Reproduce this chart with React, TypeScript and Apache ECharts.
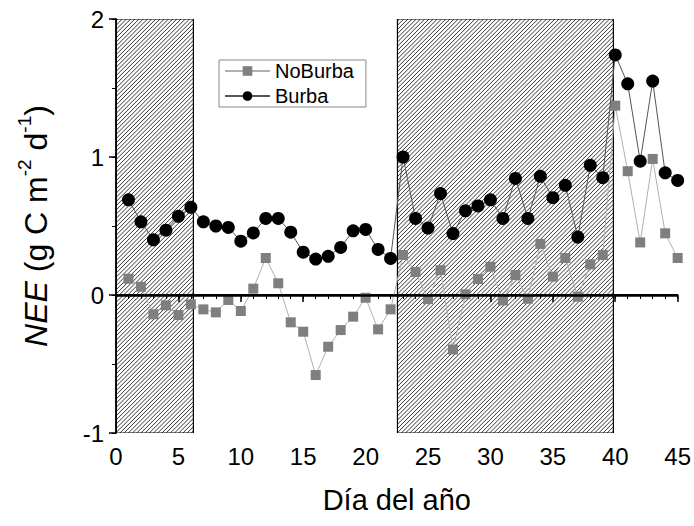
import React, { useEffect, useRef } from "react";
import * as echarts from "echarts";

const days: number[] = [
  1, 2, 3, 4, 5, 6, 7, 8, 9, 10, 11, 12, 13, 14, 15, 16, 17, 18, 19, 20, 21, 22, 23,
  24, 25, 26, 27, 28, 29, 30, 31, 32, 33, 34, 35, 36, 37, 38, 39, 40, 41, 42, 43, 44, 45,
];

const burba: number[] = [
  0.69, 0.53, 0.4, 0.47, 0.57, 0.635, 0.53, 0.5, 0.49, 0.39, 0.45, 0.555, 0.555, 0.455,
  0.31, 0.26, 0.28, 0.345, 0.465, 0.475, 0.33, 0.265, 1.0, 0.555, 0.485, 0.735, 0.445,
  0.61, 0.645, 0.69, 0.555, 0.845, 0.555, 0.86, 0.705, 0.795, 0.42, 0.94, 0.85, 1.74,
  1.53, 0.97, 1.55, 0.885, 0.83,
];

const noBurba: number[] = [
  0.118, 0.06, -0.14, -0.075, -0.145, -0.068, -0.104, -0.126, -0.036, -0.116, 0.046,
  0.268, 0.085, -0.198, -0.266, -0.58, -0.375, -0.254, -0.157, -0.02, -0.249, -0.104,
  0.29, 0.167, -0.03, 0.18, -0.395, 0.005, 0.116, 0.205, -0.04, 0.145, -0.027, 0.37,
  0.133, 0.268, -0.012, 0.222, 0.29, 1.372, 0.897, 0.381, 0.986, 0.447, 0.268,
];

// shaded (hatched) periods on the day axis
const hatchStart: number[] = [0, 22.55];
const hatchEnd: number[] = [6.2, 39.85];

const seriesNames: string[] = ["NoBurba", "Burba"];
const xTitle = "Día del año";

const FONT = "'Liberation Sans', Arial, Helvetica, sans-serif";

export default function App() {
  const ref = useRef<HTMLDivElement>(null);

  useEffect(() => {
    if (!ref.current) return;
    const chart = echarts.init(ref.current, null, { renderer: "svg" });

    const hatchData = hatchStart.map((s, i) => [s, hatchEnd[i]]);

    const renderHatch = (params: any, api: any) => {
      const xa = api.coord([api.value(0), 2])[0];
      const xb = api.coord([api.value(1), 2])[0];
      const y0 = api.coord([0, 2])[1];
      const y1 = api.coord([0, -1])[1];
      const step = 4.2;
      const children: any[] = [];
      // "/" lines: x + y = c
      for (let c = xa + y0 + step / 2; c < xb + y1; c += step) {
        const px0 = Math.max(xa, c - y1);
        const px1 = Math.min(xb, c - y0);
        if (px1 <= px0) continue;
        children.push({
          type: "line",
          shape: { x1: px0, y1: c - px0, x2: px1, y2: c - px1 },
          style: { stroke: "#000", lineWidth: 0.8 },
          silent: true,
        });
      }
      children.push({
        type: "rect",
        shape: { x: xa, y: y0, width: xb - xa, height: y1 - y0 },
        style: { fill: "none", stroke: "#000", lineWidth: 1.2 },
        silent: true,
      });
      return { type: "group", children };
    };

    const option: any = {
      animation: false,
      backgroundColor: "#fff",
      textStyle: { fontFamily: FONT },
      grid: { left: 116, right: 16, top: 19, bottom: 93, containLabel: false },
      legend: {
        data: seriesNames,
        orient: "vertical",
        left: 219,
        top: 60,
        itemWidth: 45,
        itemHeight: 12,
        itemGap: 5,
        padding: [1, 12, 1, 5],
        borderColor: "#888",
        borderWidth: 1,
        backgroundColor: "#fff",
        textStyle: { fontSize: 20, color: "#000", fontFamily: FONT },
      },
      xAxis: [
        {
          type: "value",
          position: "bottom",
          min: 0,
          max: 45,
          interval: 5,
          axisLine: { show: true, lineStyle: { color: "#000", width: 1.5 } },
          axisTick: { show: true, inside: false, length: 7, lineStyle: { color: "#000", width: 1.5 } },
          minorTick: { show: true, splitNumber: 5, length: 4, lineStyle: { color: "#000", width: 1 } },
          splitLine: { show: false },
          minorSplitLine: { show: false },
          axisLabel: { fontSize: 24, color: "#000", margin: 11, fontFamily: FONT },
          name: xTitle,
          nameLocation: "middle",
          nameGap: 52,
          nameTextStyle: { fontSize: 29, color: "#000", fontFamily: FONT },
        },
        {
          type: "value",
          position: "top",
          min: 0,
          max: 45,
          interval: 1,
          axisLine: { show: true, lineStyle: { color: "#000", width: 1.5 } },
          axisTick: { show: true, inside: true, length: 4, lineStyle: { color: "#000", width: 1 } },
          splitLine: { show: false },
          axisLabel: { show: false },
        },
      ],
      yAxis: [
        {
          type: "value",
          position: "left",
          min: -1,
          max: 2,
          interval: 1,
          axisLine: { show: true, lineStyle: { color: "#000", width: 1.5 } },
          axisTick: { show: true, inside: false, length: 7, lineStyle: { color: "#000", width: 1.5 } },
          minorTick: { show: true, splitNumber: 2, length: 4, lineStyle: { color: "#000", width: 1 } },
          splitLine: { show: false },
          minorSplitLine: { show: false },
          axisLabel: { fontSize: 24, color: "#000", margin: 12, fontFamily: FONT },
        },
        {
          type: "value",
          position: "right",
          min: -1,
          max: 2,
          interval: 0.5,
          axisLine: { show: true, lineStyle: { color: "#000", width: 1.5 } },
          axisTick: { show: true, inside: true, length: 4, lineStyle: { color: "#000", width: 1 } },
          splitLine: { show: false },
          axisLabel: { show: false },
        },
      ],
      graphic: [
        {
          type: "text",
          x: 33,
          y: 226,
          rotation: Math.PI / 2,
          style: {
            text: "{i|NEE}{n| (g C m}{s|-2}{n| d}{s|-1}{n|)}",
            align: "center",
            verticalAlign: "middle",
            fill: "#000",
            rich: {
              i: { fontStyle: "italic", fontSize: 32, fontFamily: FONT, fill: "#000", lineHeight: 37, verticalAlign: "bottom" },
              n: { fontSize: 32, fontFamily: FONT, fill: "#000", lineHeight: 37, verticalAlign: "bottom" },
              s: { fontSize: 19, fontFamily: FONT, fill: "#000", lineHeight: 22, verticalAlign: "top" },
            },
          },
        },
      ],
      series: [
        {
          type: "custom",
          name: "periods",
          xAxisIndex: 0,
          yAxisIndex: 0,
          renderItem: renderHatch,
          data: hatchData,
          encode: { x: [0, 1] },
          silent: true,
          z: 1,
          clip: true,
        },
        {
          type: "line",
          name: seriesNames[0],
          xAxisIndex: 0,
          yAxisIndex: 0,
          data: days.map((d, i) => [d, noBurba[i]]),
          symbol: "rect",
          symbolSize: 10,
          itemStyle: { color: "#7f7f7f" },
          lineStyle: { color: "#b0b0b0", width: 1 },
          z: 3,
        },
        {
          type: "line",
          name: seriesNames[1],
          xAxisIndex: 0,
          yAxisIndex: 0,
          data: days.map((d, i) => [d, burba[i]]),
          symbol: "circle",
          symbolSize: 13,
          itemStyle: { color: "#000" },
          lineStyle: { color: "#555", width: 1 },
          z: 4,
          markLine: {
            silent: true,
            symbol: ["none", "none"],
            label: { show: false },
            lineStyle: { color: "#000", width: 2.5, type: "solid" },
            data: [{ yAxis: 0 }],
          },
        },
      ],
    };

    chart.setOption(option);
    return () => chart.dispose();
  }, []);

  return <div ref={ref} style={{ position: "fixed", left: 0, top: 0, width: 694, height: 526 }} />;
}
